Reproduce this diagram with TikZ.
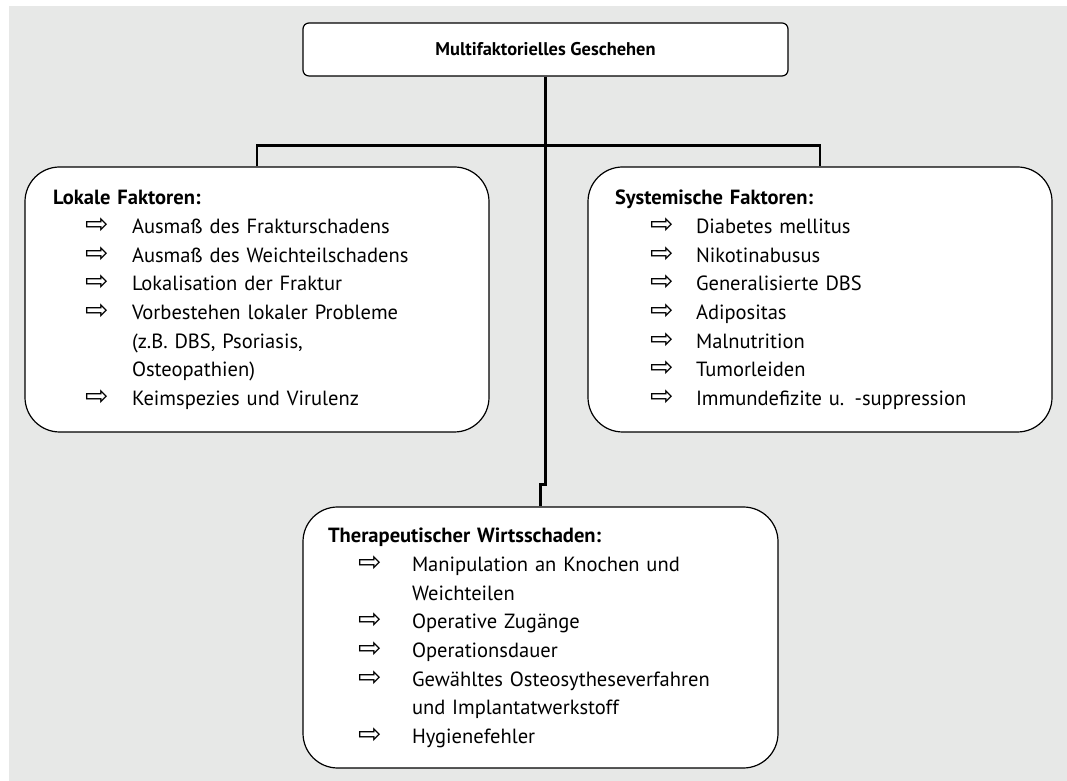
\documentclass[tikz,border=0pt]{standalone}
\usepackage{fontspec}
\setmainfont{PT Sans}
\newfontfamily\arrowfont{DejaVu Sans}
\usepackage{array}
\usetikzlibrary{calc, positioning}
\definecolor{bggray}{RGB}{231,232,231}
\newcommand{\pfeil}{{\arrowfont\fontsize{21}{21}\selectfont\symbol{"21E8}}}

\begin{document}
\begin{tikzpicture}[x=0.75pt,y=0.75pt,
  factorbox/.style={draw=black, line width=0.9pt, fill=white, rounded corners=26pt, align=left, inner ysep=0pt, font=\fontsize{15.4}{21.5}\selectfont},
  titlebox/.style={draw=black, line width=0.9pt, fill=white, rounded corners=4.5pt, minimum width=363.75pt, minimum height=39.75pt, font=\bfseries\fontsize{13.8}{16}\selectfont},
  conn/.style={line width=2pt}]
  \useasboundingbox (0,0) rectangle (1067,781);
  \fill[bggray] (9,0) rectangle (1067,775);

  \node[titlebox] (top) at (545.5,731.5) {Multifaktorielles Geschehen};

  \node[factorbox, text width=306pt, inner xsep=21pt, minimum height=198.75pt] (lokal) at (257,481.5) {%
    \begin{tabular}{@{}p{24pt}@{}p{35.25pt}@{}l@{}}
      \multicolumn{3}{@{}l@{}}{\bfseries Lokale Faktoren:}\\
      & \pfeil & Ausmaß des Frakturschadens\\
      & \pfeil & Ausmaß des Weichteilschadens\\
      & \pfeil & Lokalisation der Fraktur\\
      & \pfeil & Vorbestehen lokaler Probleme\\
      &        & (z.B. DBS, Psoriasis,\\
      &        & Osteopathien)\\
      & \pfeil & Keimspezies und Virulenz
    \end{tabular}};

  \node[factorbox, text width=307.5pt, inner xsep=20.25pt, minimum height=198.75pt] (system) at (820,481.5) {%
    \begin{tabular}{@{}p{26.25pt}@{}p{34.5pt}@{}l@{}}
      \multicolumn{3}{@{}l@{}}{\bfseries Systemische Faktoren:}\\
      & \pfeil & Diabetes mellitus\\
      & \pfeil & Nikotinabusus\\
      & \pfeil & Generalisierte DBS\\
      & \pfeil & Adipositas\\
      & \pfeil & Malnutrition\\
      & \pfeil & Tumorleiden\\
      & \pfeil & Immundefizite u. -suppression
    \end{tabular}};

  \node[factorbox, text width=318.75pt, inner xsep=18.75pt, minimum height=195.75pt] (therapie) at (540.5,143.5) {%
    \begin{tabular}{@{}p{22.5pt}@{}p{40.5pt}@{}l@{}}
      \multicolumn{3}{@{}l@{}}{\bfseries Therapeutischer Wirtsschaden:}\\
      & \pfeil & Manipulation an Knochen und\\
      &        & Weichteilen\\
      & \pfeil & Operative Zugänge\\
      & \pfeil & Operationsdauer\\
      & \pfeil & Gewähltes Osteosytheseverfahren\\
      &        & und Implantatwerkstoff\\
      & \pfeil & Hygienefehler
    \end{tabular}};

  % Verbindungen
  \coordinate (split) at ($(top.south)+(0,-69)$);
  \draw[conn] (top.south) -- (split);
  \draw[conn] (lokal.north) |- (split) -| (system.north);
  \draw[conn] (split) -- ++(0,-339) -| (therapie.north);
\end{tikzpicture}
\end{document}
